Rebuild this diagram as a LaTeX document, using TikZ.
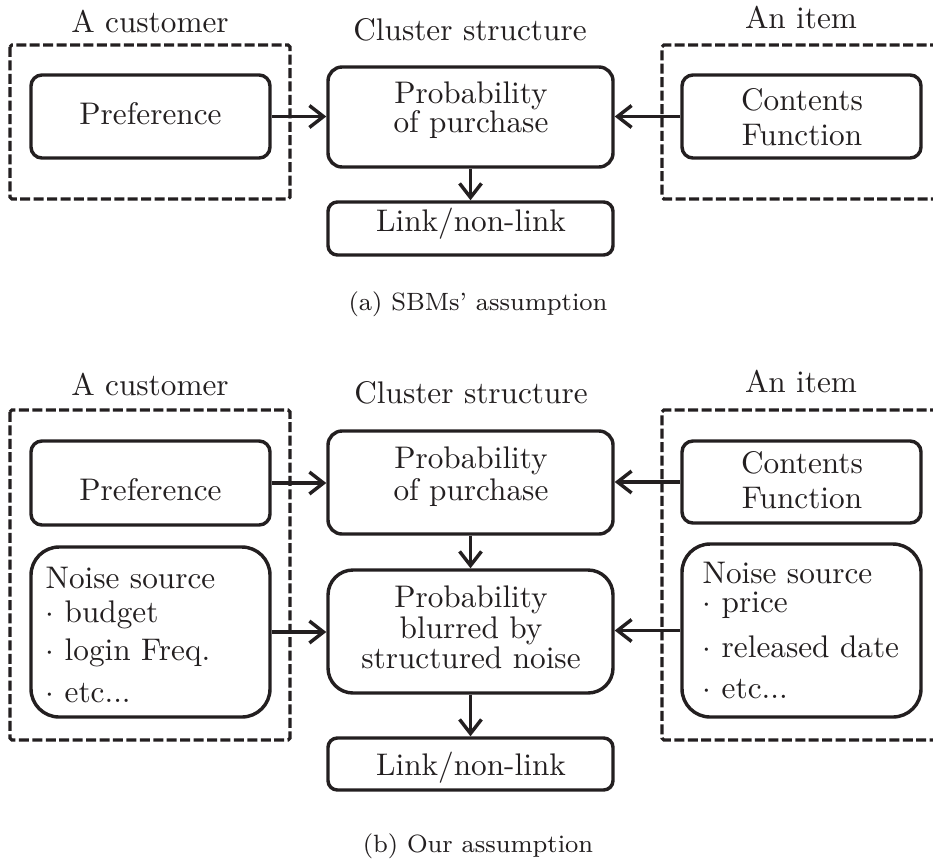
\documentclass[tikz,border=0pt]{standalone}
\usetikzlibrary{arrows.meta}
\definecolor{ink}{RGB}{35,31,32}
\newcommand\pxu{0.32pt}

\begin{document}
\begin{tikzpicture}[x=0.32pt, y=-0.32pt,
  box/.style={draw=ink, line width=1.1pt, inner sep=0pt},
  txt/.style={anchor=base, inner sep=0pt, text=ink, font=\fontsize{10}{12}\selectfont},
  ltxt/.style={txt, anchor=base west},
  captext/.style={txt, font=\footnotesize},
  flow/.style={draw=ink, line width=1.1pt, -{Straight Barb[length=4.5pt,width=7pt]}},
  frame/.style={draw=ink, line width=1pt, dash pattern=on 3.2pt off 1.1pt},
]
\useasboundingbox (0,0) rectangle (933,859);

% ---------------- (a) SBMs' assumption ----------------
\draw[frame, rounded corners=0.6pt] (10,45) rectangle (290,199);
\draw[frame, rounded corners=0.6pt] (940,45) -- (662,45) -- (662,199) -- (940,199);

\node[box, rounded corners=3.5pt, minimum width=239*\pxu, minimum height=83*\pxu] (pref1) at (150.5,116.5) {};
\node[box, rounded corners=4.5pt, minimum width=285*\pxu, minimum height=100*\pxu] (prob1) at (470.5,117) {};
\node[box, rounded corners=3pt, minimum width=285*\pxu, minimum height=53*\pxu] (link1) at (470.5,228.5) {};
\node[box, rounded corners=3.5pt, minimum width=239*\pxu, minimum height=83*\pxu] (cont1) at (801.5,116.5) {};

\node[txt] (ttl1a) at (150,32) {A customer};
\node[txt] (ttl1b) at (470,40) {Cluster structure};
\node[txt] (ttl1c) at (801,28) {An item};
\node[txt] (pref1t) at (150.5,124) {Preference};
\node[txt] (prob1a) at (471,103) {Probability};
\node[txt] (prob1b) at (471,132) {of purchase};
\node[txt] (cont1a) at (802,110) {Contents};
\node[txt] (cont1b) at (802,145) {Function};
\node[txt] (link1t) at (471,231) {Link/non-link};
\node[captext] (capa) at (478,310) {(a) SBMs' assumption};

\draw[flow] (pref1.east) -- (pref1.east -| prob1.west);
\draw[flow] (cont1.west) -- (cont1.west -| prob1.east);
\draw[flow] (prob1.south) -- (link1.north);

% ---------------- (b) Our assumption ----------------
\draw[frame, rounded corners=0.6pt] (10,410) rectangle (290,740);
\draw[frame, rounded corners=0.6pt] (940,410) -- (662,410) -- (662,740) -- (940,740);

\node[box, rounded corners=3.5pt, minimum width=239*\pxu, minimum height=84*\pxu] (pref2) at (150.5,483) {};
\node[box, rounded corners=9pt, minimum width=239*\pxu, minimum height=170*\pxu] (noiseL) at (150.5,632) {};
\node[box, rounded corners=4.5pt, minimum width=285*\pxu, minimum height=103*\pxu] (prob2) at (470.5,482.5) {};
\node[box, rounded corners=8pt, minimum width=285*\pxu, minimum height=123*\pxu] (blur) at (470.5,631.5) {};
\node[box, rounded corners=3pt, minimum width=285*\pxu, minimum height=52*\pxu] (link2) at (470.5,764) {};
\node[box, rounded corners=3.5pt, minimum width=239*\pxu, minimum height=82*\pxu] (cont2) at (801.5,482) {};
\node[box, rounded corners=9pt, minimum width=239*\pxu, minimum height=173*\pxu] (noiseR) at (801.5,630.5) {};

\node[txt] (ttl2a) at (150,395) {A customer};
\node[txt] (ttl2b) at (471,403) {Cluster structure};
\node[txt] (ttl2c) at (801,392) {An item};
\node[txt] (pref2t) at (150.5,500) {Preference};
\node[txt] (prob2a) at (471,468) {Probability};
\node[txt] (prob2b) at (471,500) {of purchase};
\node[txt] (cont2a) at (802,473) {Contents};
\node[txt] (cont2b) at (802,508) {Function};

\node[ltxt] (nl1) at (45,588) {Noise source};
\node[ltxt] (nl2) at (45,622) {$\cdot$ budget};
\node[ltxt] (nl3) at (45,660) {$\cdot$ login Freq.};
\node[ltxt] (nl4) at (45,702) {$\cdot$ etc...};

\node[txt] (blur1) at (471,607) {Probability};
\node[txt] (blur2) at (471,638) {blurred by};
\node[txt] (blur3) at (471,668) {structured noise};

\node[ltxt] (nr1) at (702,583) {Noise source};
\node[ltxt] (nr2) at (702,612) {$\cdot$ price};
\node[ltxt] (nr3) at (702,657) {$\cdot$ released date};
\node[ltxt] (nr4) at (702,698) {$\cdot$ etc...};

\node[txt] (link2t) at (471,775) {Link/non-link};
\node[captext] (capb) at (478,852) {(b) Our assumption};

\draw[flow] (pref2.east) -- (pref2.east -| prob2.west);
\draw[flow] (noiseL.east) -- (noiseL.east -| blur.west);
\draw[flow] (cont2.west) -- (cont2.west -| prob2.east);
\draw[flow] (noiseR.west) -- (noiseR.west -| blur.east);
\draw[flow] (prob2.south) -- (blur.north);
\draw[flow] (blur.south) -- (link2.north);
\end{tikzpicture}
\end{document}
